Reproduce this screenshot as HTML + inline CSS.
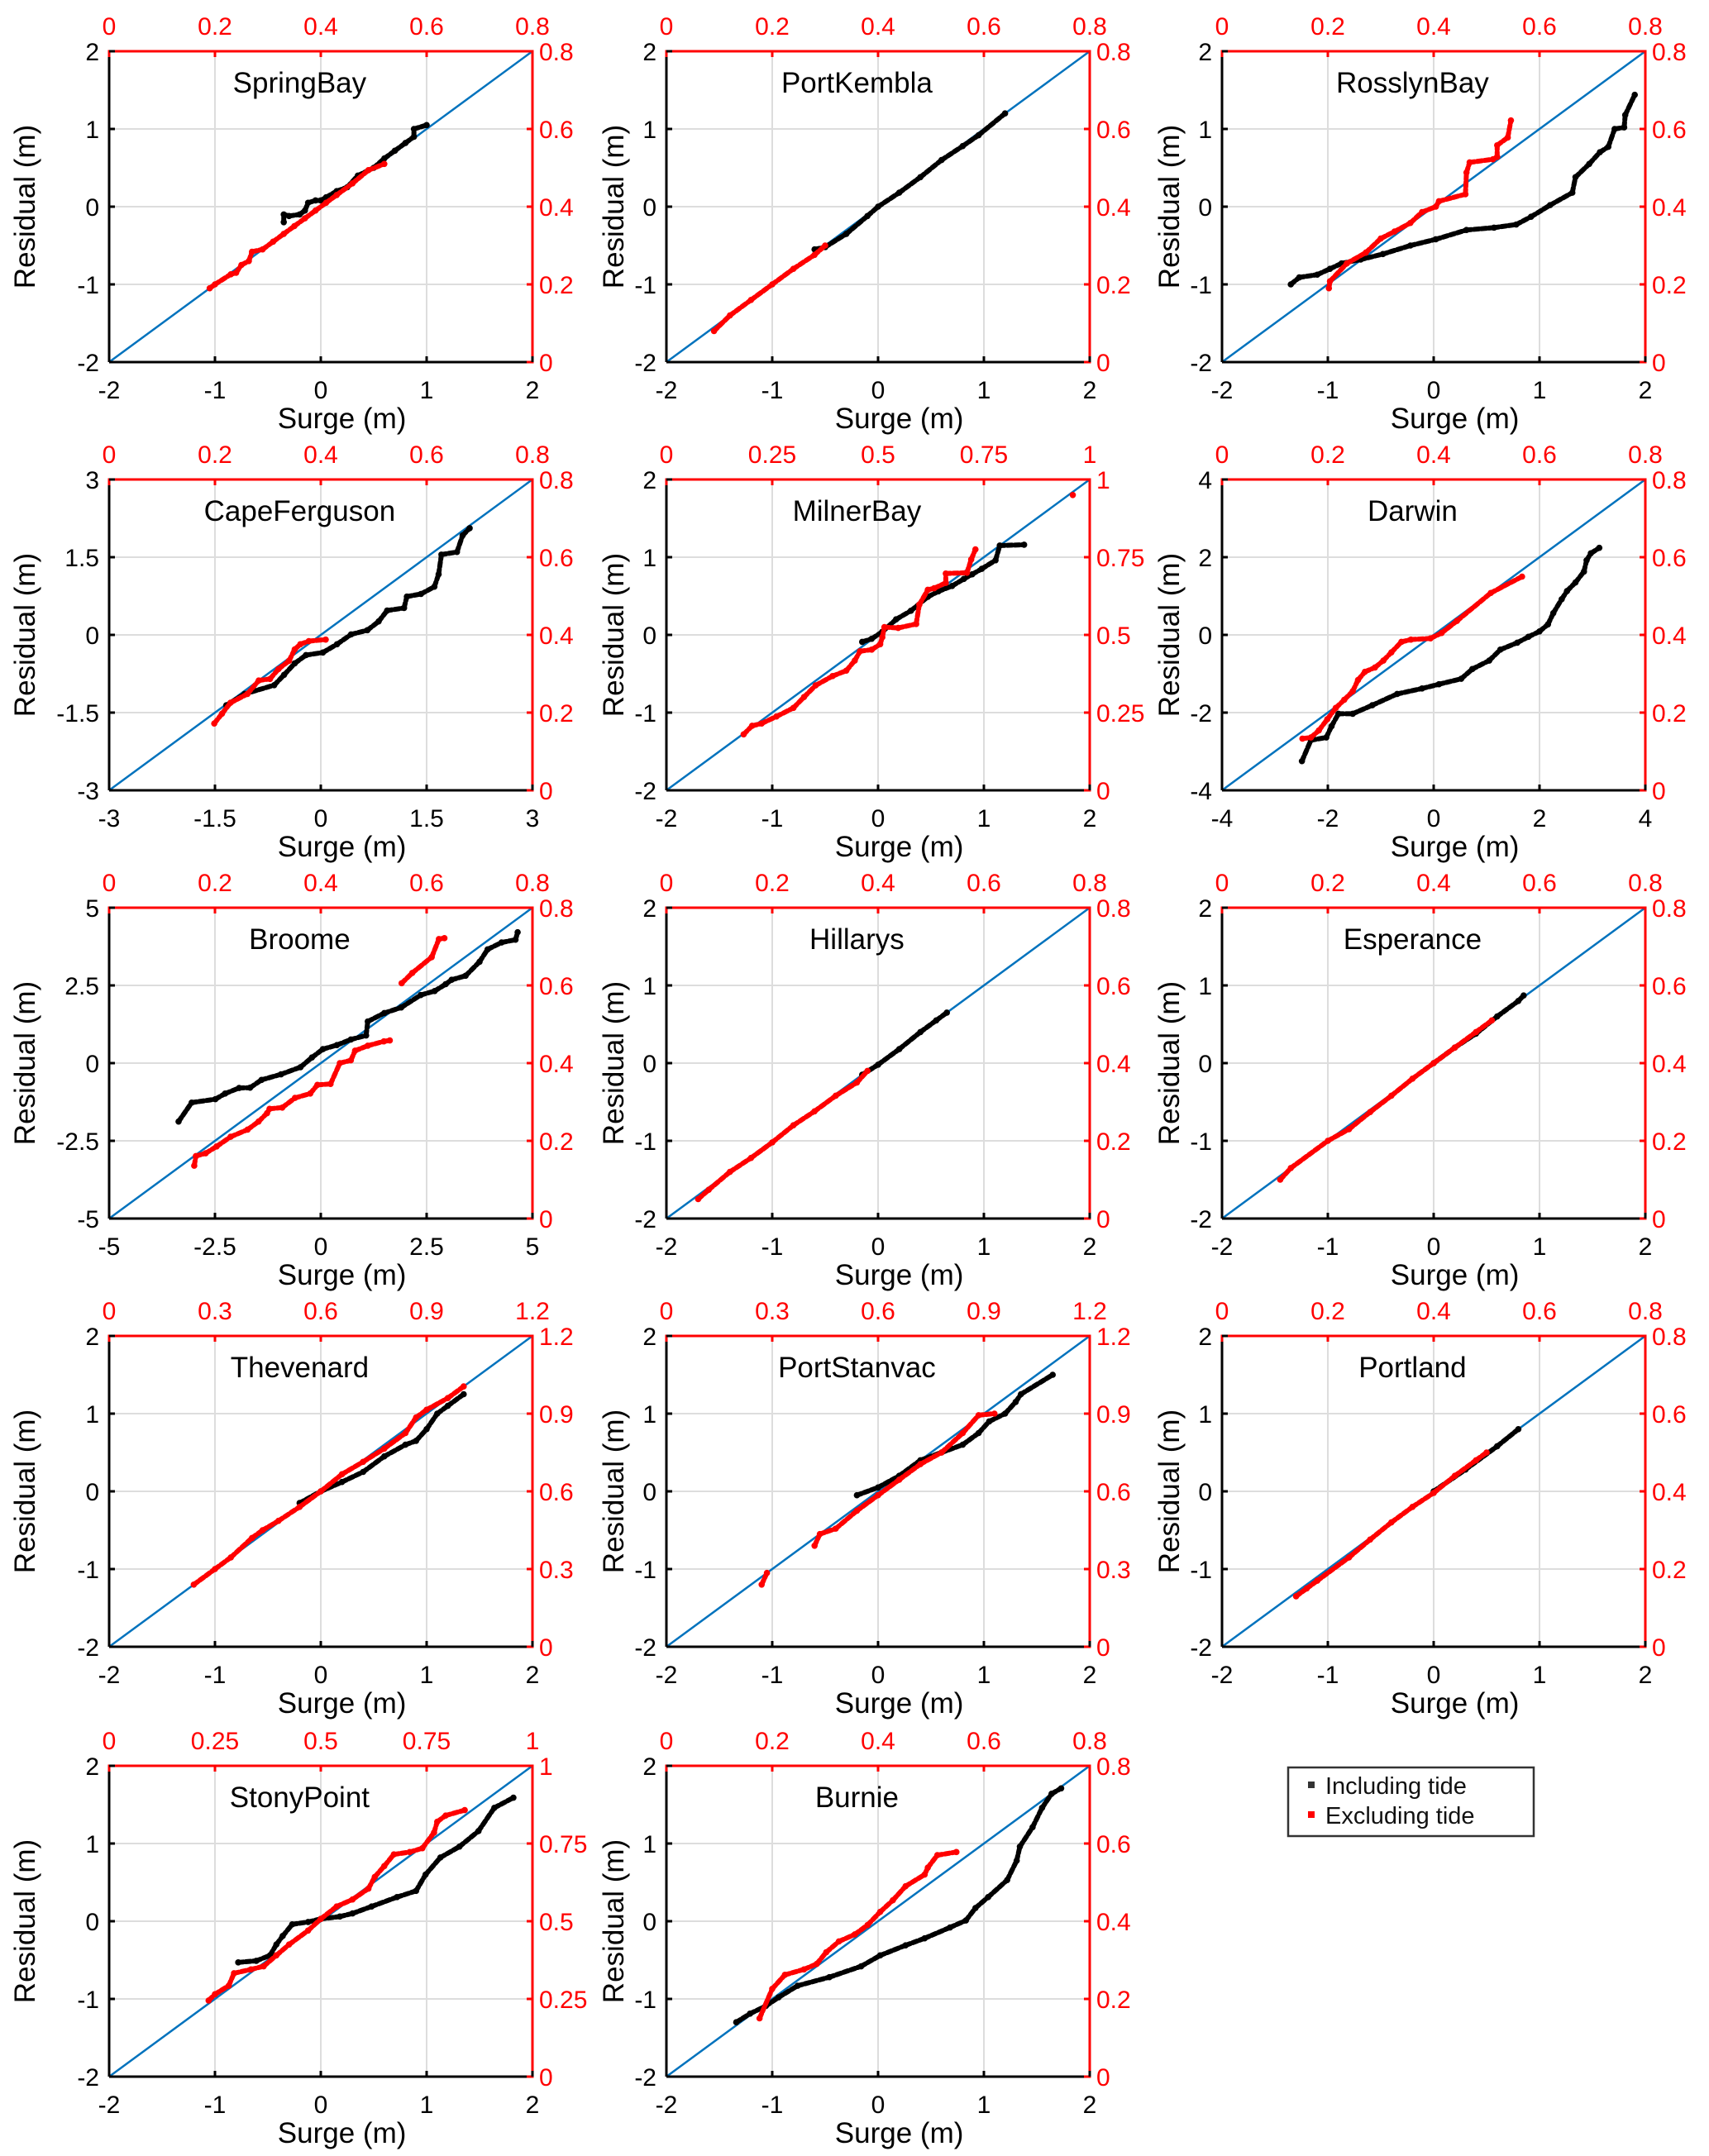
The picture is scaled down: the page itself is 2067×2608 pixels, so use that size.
<!DOCTYPE html>
<html><head><meta charset="utf-8"><title>Surge vs Residual Q-Q plots</title>
<style>
html,body{margin:0;padding:0;background:#fff;}
svg{display:block;font-family:"Liberation Sans",sans-serif;}
</style></head>
<body>
<svg id="fig" width="2067" height="2608" viewBox="0 0 2067 2608" xmlns="http://www.w3.org/2000/svg">
<g id="panels"></g>
<g>
<rect x="1558" y="2138" width="297" height="83" fill="#fff" stroke="#333" stroke-width="2.5"/>
<g>
<rect x="1582" y="2155" width="8" height="8" fill="#333"/>
<text x="1603" y="2170" font-size="29" fill="#111">Including tide</text>
</g>
<g>
<rect x="1582" y="2191" width="8" height="8" fill="#f00"/>
<text x="1603" y="2206" font-size="29" fill="#111">Excluding tide</text>
</g>
</g>
</svg>
<script>
const stationNames=["SpringBay","PortKembla","RosslynBay","CapeFerguson","MilnerBay","Darwin","Broome","Hillarys","Esperance","Thevenard","PortStanvac","Portland","StonyPoint","Burnie"];
const primaryTicks=[
[-2,-1,0,1,2],[-2,-1,0,1,2],[-2,-1,0,1,2],[-3,-1.5,0,1.5,3],[-2,-1,0,1,2],[-4,-2,0,2,4],[-5,-2.5,0,2.5,5],
[-2,-1,0,1,2],[-2,-1,0,1,2],[-2,-1,0,1,2],[-2,-1,0,1,2],[-2,-1,0,1,2],[-2,-1,0,1,2],[-2,-1,0,1,2]];
const primaryTickLabels=[
["-2","-1","0","1","2"],["-2","-1","0","1","2"],["-2","-1","0","1","2"],["-3","-1.5","0","1.5","3"],["-2","-1","0","1","2"],["-4","-2","0","2","4"],["-5","-2.5","0","2.5","5"],
["-2","-1","0","1","2"],["-2","-1","0","1","2"],["-2","-1","0","1","2"],["-2","-1","0","1","2"],["-2","-1","0","1","2"],["-2","-1","0","1","2"],["-2","-1","0","1","2"]];
const redTickLabels=[
["0","0.2","0.4","0.6","0.8"],["0","0.2","0.4","0.6","0.8"],["0","0.2","0.4","0.6","0.8"],["0","0.2","0.4","0.6","0.8"],
["0","0.25","0.5","0.75","1"],["0","0.2","0.4","0.6","0.8"],["0","0.2","0.4","0.6","0.8"],["0","0.2","0.4","0.6","0.8"],
["0","0.2","0.4","0.6","0.8"],["0","0.3","0.6","0.9","1.2"],["0","0.3","0.6","0.9","1.2"],["0","0.2","0.4","0.6","0.8"],
["0","0.25","0.5","0.75","1"],["0","0.2","0.4","0.6","0.8"]];
// series: [surge, residual] pairs
const incTide=[
[[-0.35,-0.2],[-0.35,-0.1],[-0.3,-0.12],[-0.2,-0.1],[-0.15,-0.05],[-0.12,0.05],[-0.05,0.08],[0,0.08],[0.05,0.12],[0.15,0.2],[0.25,0.25],[0.35,0.4],[0.5,0.5],[0.6,0.62],[0.7,0.72],[0.8,0.82],[0.88,0.9],[0.88,1.0],[1.0,1.05]],
[[-0.6,-0.55],[-0.5,-0.52],[-0.3,-0.35],[-0.1,-0.12],[0,0],[0.2,0.18],[0.4,0.38],[0.6,0.6],[0.8,0.78],[0.95,0.92],[1.2,1.2]],
[[-1.35,-1.0],[-1.27,-0.91],[-1.1,-0.875],[-0.98,-0.8],[-0.87,-0.73],[-0.69,-0.68],[-0.48,-0.61],[-0.22,-0.5],[0.02,-0.42],[0.31,-0.3],[0.57,-0.27],[0.78,-0.23],[0.92,-0.13],[1.1,0.02],[1.31,0.18],[1.34,0.38],[1.47,0.55],[1.57,0.7],[1.65,0.77],[1.71,1.0],[1.8,1.02],[1.81,1.18],[1.9,1.44]],
[[-1.34,-1.36],[-1.08,-1.14],[-0.66,-0.97],[-0.52,-0.77],[-0.37,-0.55],[-0.21,-0.39],[0.03,-0.34],[0.23,-0.18],[0.43,0.01],[0.66,0.09],[0.82,0.26],[0.94,0.47],[1.18,0.52],[1.22,0.74],[1.42,0.79],[1.61,0.93],[1.67,1.17],[1.71,1.55],[1.93,1.6],[2.01,1.92],[2.11,2.06]],
[[-0.15,-0.09],[-0.06,-0.05],[0.04,0.04],[0.17,0.2],[0.31,0.31],[0.47,0.49],[0.57,0.56],[0.7,0.63],[0.81,0.72],[0.89,0.78],[0.98,0.85],[1.11,0.96],[1.15,1.15],[1.38,1.16]],
[[-2.49,-3.25],[-2.32,-2.71],[-2.03,-2.64],[-1.93,-2.35],[-1.8,-2.03],[-1.53,-2.03],[-1.16,-1.81],[-0.69,-1.52],[-0.22,-1.38],[0.1,-1.27],[0.52,-1.13],[0.73,-0.88],[1.05,-0.66],[1.26,-0.38],[1.58,-0.2],[1.79,-0.05],[2,0.09],[2.16,0.27],[2.26,0.56],[2.42,0.92],[2.52,1.13],[2.68,1.35],[2.84,1.63],[2.89,1.92],[2.97,2.1],[3.13,2.24]],
[[-3.36,-1.88],[-3.05,-1.27],[-2.49,-1.16],[-2.26,-0.98],[-1.93,-0.8],[-1.67,-0.79],[-1.4,-0.54],[-0.94,-0.36],[-0.48,-0.13],[-0.21,0.18],[0.05,0.45],[0.38,0.58],[0.71,0.76],[1.07,0.89],[1.11,1.34],[1.5,1.61],[1.9,1.79],[2.36,2.19],[2.69,2.32],[2.95,2.54],[3.09,2.68],[3.42,2.81],[3.75,3.26],[3.94,3.66],[4.27,3.88],[4.6,3.97],[4.65,4.21]],
[[-0.15,-0.15],[0,-0.02],[0.2,0.18],[0.4,0.4],[0.55,0.55],[0.65,0.65]],
[[0,0],[0.2,0.2],[0.4,0.38],[0.6,0.6],[0.8,0.8],[0.85,0.87]],
[[-0.2,-0.15],[0,0],[0.2,0.12],[0.4,0.25],[0.6,0.45],[0.8,0.6],[0.9,0.65],[1.0,0.8],[1.1,1.0],[1.2,1.1],[1.35,1.25]],
[[-0.2,-0.05],[0,0.05],[0.2,0.2],[0.4,0.4],[0.6,0.5],[0.8,0.6],[0.95,0.75],[1.05,0.9],[1.2,1.0],[1.3,1.15],[1.35,1.25],[1.65,1.5]],
[[0,0],[0.3,0.28],[0.6,0.58],[0.8,0.8]],
[[-0.78,-0.53],[-0.61,-0.51],[-0.48,-0.44],[-0.42,-0.3],[-0.36,-0.19],[-0.27,-0.04],[-0.12,-0.01],[0,0.03],[0.18,0.06],[0.3,0.1],[0.48,0.19],[0.72,0.31],[0.9,0.39],[0.99,0.6],[1.13,0.82],[1.31,0.96],[1.49,1.16],[1.64,1.46],[1.82,1.59]],
[[-1.34,-1.3],[-1.21,-1.19],[-1.06,-1.09],[-0.94,-0.98],[-0.76,-0.83],[-0.46,-0.72],[-0.16,-0.58],[0.02,-0.44],[0.26,-0.31],[0.44,-0.22],[0.68,-0.08],[0.83,0.01],[0.92,0.17],[1.04,0.31],[1.22,0.53],[1.31,0.78],[1.34,0.96],[1.46,1.21],[1.55,1.46],[1.64,1.64],[1.73,1.71]]
];
const excTide=[
[[-1.05,-1.05],[-1.0,-1.0],[-0.85,-0.87],[-0.8,-0.85],[-0.75,-0.75],[-0.68,-0.7],[-0.65,-0.58],[-0.55,-0.55],[-0.45,-0.45],[-0.35,-0.35],[-0.25,-0.25],[-0.15,-0.15],[-0.05,-0.05],[0.05,0.05],[0.15,0.15],[0.3,0.3],[0.45,0.47],[0.6,0.55]],
[[-1.55,-1.6],[-1.4,-1.4],[-1.2,-1.2],[-1.0,-1.0],[-0.8,-0.8],[-0.6,-0.62],[-0.5,-0.5]],
[[-0.99,-1.05],[-0.98,-0.96],[-0.82,-0.73],[-0.64,-0.59],[-0.5,-0.41],[-0.37,-0.32],[-0.22,-0.21],[-0.11,-0.07],[0.02,0],[0.05,0.07],[0.3,0.16],[0.31,0.44],[0.34,0.57],[0.56,0.61],[0.6,0.64],[0.6,0.79],[0.7,0.89],[0.73,1.11]],
[[-1.51,-1.71],[-1.4,-1.52],[-1.28,-1.31],[-1.04,-1.14],[-0.88,-0.88],[-0.72,-0.85],[-0.6,-0.66],[-0.45,-0.5],[-0.37,-0.28],[-0.29,-0.18],[-0.17,-0.12],[0.07,-0.09]],
[[-1.27,-1.28],[-1.19,-1.17],[-1.1,-1.14],[-0.96,-1.05],[-0.8,-0.94],[-0.7,-0.8],[-0.59,-0.65],[-0.43,-0.53],[-0.3,-0.46],[-0.22,-0.33],[-0.17,-0.21],[-0.06,-0.19],[0.02,-0.12],[0.04,-0.03],[0.06,0.1],[0.19,0.09],[0.36,0.14],[0.39,0.39],[0.47,0.58],[0.53,0.6],[0.64,0.67],[0.64,0.79],[0.84,0.8],[0.88,0.97],[0.92,1.1],[1.84,1.8]],
[[-2.48,-2.67],[-2.32,-2.64],[-2.17,-2.46],[-2.01,-2.17],[-1.85,-1.88],[-1.69,-1.67],[-1.53,-1.45],[-1.43,-1.16],[-1.3,-0.95],[-1.11,-0.84],[-0.95,-0.66],[-0.8,-0.45],[-0.61,-0.18],[-0.43,-0.12],[-0.06,-0.09],[0.15,0.05],[0.44,0.36],[1.08,1.08],[1.67,1.5]],
[[-2.99,-3.3],[-2.95,-2.99],[-2.72,-2.9],[-2.46,-2.68],[-2.13,-2.37],[-1.73,-2.14],[-1.47,-1.88],[-1.27,-1.61],[-1.21,-1.47],[-0.91,-1.43],[-0.61,-1.12],[-0.25,-0.98],[-0.08,-0.7],[0.23,-0.67],[0.45,0],[0.71,0.09],[0.81,0.4],[1.11,0.56],[1.49,0.7],[1.63,0.73],[1.91,2.57],[2.16,2.9],[2.62,3.41],[2.79,3.99],[2.92,4.02]],
[[-1.7,-1.75],[-1.6,-1.63],[-1.4,-1.4],[-1.2,-1.22],[-1.0,-1.02],[-0.8,-0.8],[-0.6,-0.62],[-0.4,-0.42],[-0.2,-0.25],[-0.1,-0.1]],
[[-1.45,-1.5],[-1.35,-1.35],[-1.0,-1.0],[-0.8,-0.85],[-0.6,-0.63],[-0.4,-0.42],[-0.2,-0.2],[0,0],[0.2,0.2],[0.4,0.4],[0.55,0.55]],
[[-1.2,-1.2],[-1.0,-1.0],[-0.85,-0.85],[-0.65,-0.6],[-0.55,-0.5],[-0.4,-0.38],[-0.2,-0.2],[0,0],[0.2,0.22],[0.4,0.38],[0.6,0.55],[0.8,0.75],[0.9,0.95],[1.0,1.05],[1.2,1.2],[1.35,1.35]],
[[-1.1,-1.2],[-1.05,-1.05],[-0.6,-0.7],[-0.55,-0.55],[-0.4,-0.48],[-0.2,-0.25],[0,-0.05],[0.2,0.15],[0.4,0.35],[0.6,0.5],[0.8,0.75],[0.95,0.98],[1.1,1.0]],
[[-1.3,-1.35],[-1.2,-1.25],[-1.1,-1.15],[-0.8,-0.85],[-0.6,-0.62],[-0.4,-0.4],[-0.2,-0.2],[0,-0.02],[0.2,0.2],[0.4,0.4],[0.5,0.5]],
[[-1.06,-1.02],[-1.0,-0.94],[-0.87,-0.83],[-0.82,-0.67],[-0.66,-0.62],[-0.54,-0.58],[-0.42,-0.44],[-0.3,-0.3],[-0.12,-0.12],[0,0.03],[0.15,0.19],[0.3,0.28],[0.45,0.42],[0.51,0.57],[0.6,0.71],[0.69,0.86],[0.84,0.89],[0.96,0.94],[1.07,1.14],[1.1,1.28],[1.18,1.36],[1.36,1.43]],
[[-1.12,-1.25],[-1.0,-0.87],[-0.88,-0.69],[-0.7,-0.62],[-0.58,-0.55],[-0.49,-0.4],[-0.37,-0.26],[-0.22,-0.17],[-0.1,-0.05],[0.02,0.12],[0.14,0.27],[0.26,0.45],[0.44,0.6],[0.47,0.69],[0.56,0.85],[0.74,0.89]]
];

const NS="http://www.w3.org/2000/svg";
const colLeft=[132,806,1478], rowTop=[62,580,1098,1616,2136], PW=512, PH=376;
const yTitleOffset=[102,64,64];
function mk(tag,attrs,parent){const e=document.createElementNS(NS,tag);for(const k in attrs)e.setAttribute(k,attrs[k]);parent.appendChild(e);return e;}
const root=document.getElementById('panels');
stationNames.forEach((name,i)=>{
  const L=colLeft[i%3], T=rowTop[Math.floor(i/3)], R=L+PW, B=T+PH;
  const tk=primaryTicks[i], lo=tk[0], hi=tk[tk.length-1];
  const sx=v=>L+(v-lo)/(hi-lo)*PW, sy=v=>B-(v-lo)/(hi-lo)*PH;
  const g=mk('g',{},root);
  
  
  tk.forEach((v,j)=>{
    if(j>0&&j<tk.length-1){
      const gv=mk('line',{x1:sx(v),x2:sx(v),y1:T,y2:B,stroke:'#dddddd','stroke-width':2},g);
      
      const gh=mk('line',{x1:L,x2:R,y1:sy(v),y2:sy(v),stroke:'#dddddd','stroke-width':2},g);
      
    }
  });
  const d=mk('line',{x1:sx(lo),y1:sy(lo),x2:sx(hi),y2:sy(hi),stroke:'#0072BD','stroke-width':2.5},g);
  
  [[incTide[i],'#000','including-tide'],[excTide[i],'#f00','excluding-tide']].forEach(([pts,col,nm])=>{
    const sg=mk('g',{},g);
    
    for(let k=1;k<pts.length;k++){
      const x1=sx(pts[k-1][0]),y1=sy(pts[k-1][1]),x2=sx(pts[k][0]),y2=sy(pts[k][1]);
      if(Math.hypot(x2-x1,y2-y1)<60){
        const seg=mk('line',{x1:x1,y1:y1,x2:x2,y2:y2,stroke:col,'stroke-width':6,'stroke-linecap':'round','stroke-dasharray':'6 3'},sg);
        
      }
    }
    pts.forEach(p=>{
      const c=mk('circle',{cx:sx(p[0]),cy:sy(p[1]),r:3.8,fill:col},sg);
      
    });
  });
  const ab=mk('line',{x1:L,x2:R,y1:B,y2:B,stroke:'#000','stroke-width':3},g);
  
  const al=mk('line',{x1:L,x2:L,y1:T,y2:B,stroke:'#000','stroke-width':3},g);
  
  const at=mk('line',{x1:L-1.5,x2:R+1.5,y1:T,y2:T,stroke:'#f00','stroke-width':3},g);
  
  const ar=mk('line',{x1:R,x2:R,y1:T,y2:B+1.5,stroke:'#f00','stroke-width':3},g);
  
  tk.forEach((v,j)=>{
    const X=sx(v),Y=sy(v);
    mk('line',{x1:X,x2:X,y1:B,y2:B-7,stroke:'#000','stroke-width':3},g);
    mk('line',{x1:L,x2:L+7,y1:Y,y2:Y,stroke:'#000','stroke-width':3},g);
    mk('line',{x1:X,x2:X,y1:T,y2:T+7,stroke:'#f00','stroke-width':3},g);
    mk('line',{x1:R,x2:R-7,y1:Y,y2:Y,stroke:'#f00','stroke-width':3},g);
    const xl=mk('text',{x:X,y:B+44,'font-size':30,'text-anchor':'middle',fill:'#000'},g);xl.textContent=primaryTickLabels[i][j];
    
    const yl=mk('text',{x:L-12,y:Y+11,'font-size':30,'text-anchor':'end',fill:'#000'},g);yl.textContent=primaryTickLabels[i][j];
    
    const tl=mk('text',{x:X,y:T-20,'font-size':30,'text-anchor':'middle',fill:'#f00'},g);tl.textContent=redTickLabels[i][j];
    
    const rl=mk('text',{x:R+8,y:Y+11,'font-size':30,'text-anchor':'start',fill:'#f00'},g);rl.textContent=redTickLabels[i][j];
    
  });
  const xt=mk('text',{x:L+PW*0.55,y:B+80,'font-size':35,'text-anchor':'middle',fill:'#000'},g);xt.textContent='Surge (m)';
  
  const yt=mk('text',{x:0,y:0,'font-size':35,'text-anchor':'middle',fill:'#000',transform:`translate(${L-yTitleOffset[i%3]+12},${T+PH/2}) rotate(-90)`},g);yt.textContent='Residual (m)';
  
  const tt=mk('text',{x:L+PW*0.45,y:T+50,'font-size':35,'text-anchor':'middle',fill:'#000'},g);tt.textContent=name;
  
});
</script>
</body></html>
